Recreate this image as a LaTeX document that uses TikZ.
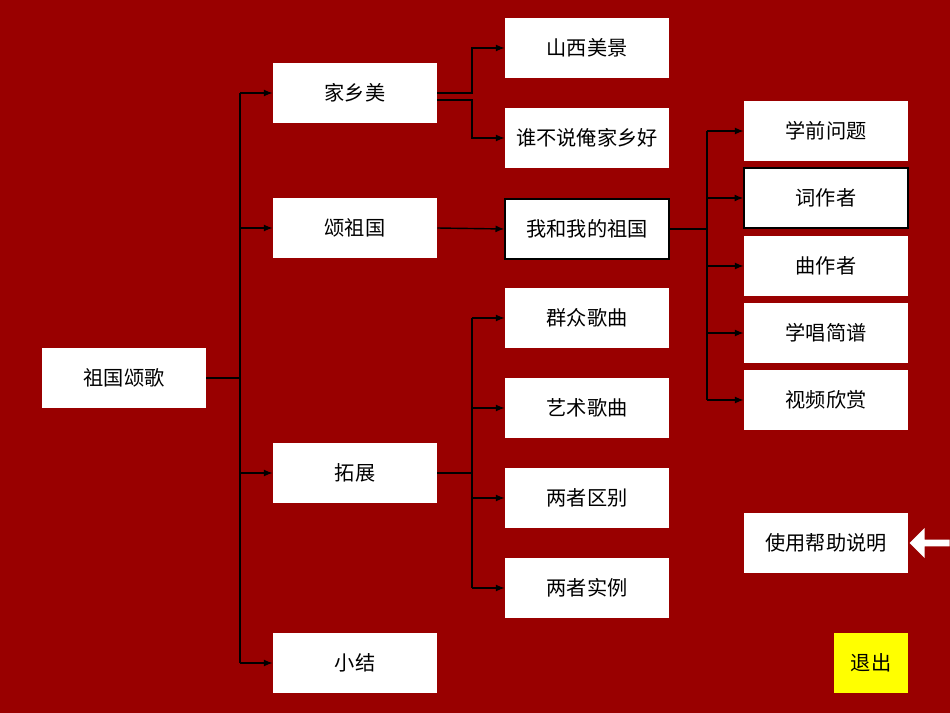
\documentclass[tikz,border=0pt]{standalone}
\usepackage{fontspec}
\setmainfont{Noto Sans CJK SC}
\usetikzlibrary{arrows.meta,shapes.arrows}
\definecolor{bg}{HTML}{990000}
\definecolor{yel}{HTML}{FFFF00}
\begin{document}
\begin{tikzpicture}[x=0.02cm,y=-0.02cm,
  box/.style={fill=white,minimum width=164*0.02cm,minimum height=60*0.02cm,inner sep=0pt,font=\fontsize{11.5}{13}\selectfont},
  con/.style={draw=black,line width=0.8pt},
  arr/.style={con,-{Latex[length=5pt,width=4pt]}}]
\fill[bg] (0,0) rectangle (950,713);
\useasboundingbox (0,0) rectangle (950,713);
\node[box] (root) at (124,378) {祖国颂歌};
\node[box] (a1) at (355,93) {家乡美};
\node[box] (a2) at (355,228) {颂祖国};
\node[box] (a3) at (355,473) {拓展};
\node[box] (a4) at (355,663) {小结};
\node[box] (b1) at (587,48) {山西美景};
\node[box] (b2) at (587,138) {谁不说俺家乡好};
\node[box,draw=black,line width=0.8pt] (b3) at (587,229) {我和我的祖国};
\node[box] (b4) at (587,318) {群众歌曲};
\node[box] (b5) at (587,408) {艺术歌曲};
\node[box] (b6) at (587,498) {两者区别};
\node[box] (b7) at (587,588) {两者实例};
\node[box] (c1) at (826,131) {学前问题};
\node[box,draw=black,line width=0.8pt] (c2) at (826,198) {词作者};
\node[box] (c3) at (826,266) {曲作者};
\node[box] (c4) at (826,333) {学唱简谱};
\node[box] (c5) at (826,400) {视频欣赏};
\node[box] (help) at (826,543) {使用帮助说明};
\node[box,fill=yel,minimum width=74*0.02cm] (quit) at (871,663) {退出};
\node[single arrow,fill=white,shape border rotate=180,minimum height=40*0.02cm,minimum width=30*0.02cm,single arrow head extend=4pt,inner sep=1pt,anchor=tip] (harrow) at (909,543) {};
% root to level 1
\draw[con] (root.east) -- (240,378);
\coordinate (t1) at (240,93);
\coordinate (t4) at (240,663);
\draw[con] (t1) -- (t4);
\foreach \n in {a1,a2,a3,a4} \draw[arr] (240,0 |- \n.west) -- (\n.west);
% 家乡美
\draw[arr] (a1.east) -- (472,93) -- (472,48) -- (b1.west);
\draw[arr] (437,100) -- (472,100) -- (472,138) -- (b2.west);
% 颂祖国
\draw[arr] (a2.east) -- (b3.west);
% 拓展
\draw[con] (a3.east) -- (472,473);
\draw[con] (472,318) -- (472,588);
\foreach \n in {b4,b5,b6,b7} \draw[arr] (472,0 |- \n.west) -- (\n.west);
% 我和我的祖国
\draw[con] (b3.east) -- (707,229);
\draw[con] (707,131) -- (707,400);
\foreach \n in {c1,c2,c3,c4,c5} \draw[arr] (707,0 |- \n.west) -- (\n.west);
\end{tikzpicture}
\end{document}
